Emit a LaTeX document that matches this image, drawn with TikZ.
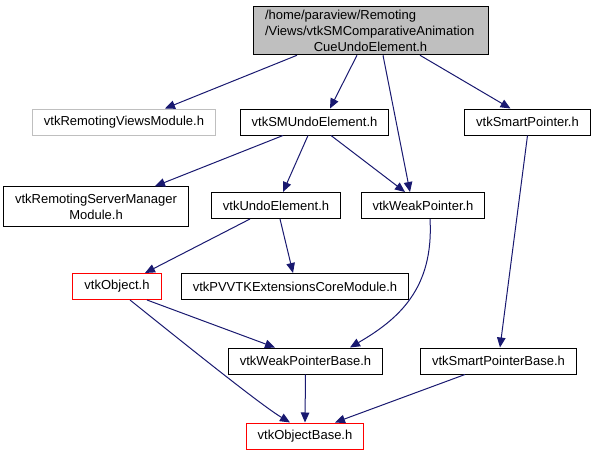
\documentclass[tikz,border=0pt]{standalone}
\usepackage{fontspec}
\setmainfont{Liberation Sans}
\usetikzlibrary{arrows.meta}
\definecolor{edgeblue}{RGB}{25,25,112}
\definecolor{boxgray}{RGB}{191,191,191}
\begin{document}
\begin{tikzpicture}[x=1pt, y=-1pt, line width=1pt, >={Triangle[length=10pt,width=8.5pt]},
  file/.style={draw=black, fill=white, inner xsep=11.5pt, inner ysep=0pt, minimum height=26pt, font=\fontsize{13}{16}\selectfont},
  extfile/.style={file, draw=boxgray},
  redfile/.style={file, draw=red},
  dep/.style={->, draw=edgeblue}]
  \useasboundingbox (0,0) rectangle (598,455);
  % files
  \node[file, fill=boxgray, align=center, text width=214pt, inner xsep=10.5pt, inner ysep=3.5pt] (root) at (370.5,30.5)
    {\makebox[214pt][l]{\hspace{1.5pt}/home/paraview/Remoting}\\ \makebox[214pt][l]{\hspace{1.5pt}/Views/vtkSMComparativeAnimation}\\ CueUndoElement.h};
  \node[extfile] (rvm) at (124,122) {vtkRemotingViewsModule.h};
  \node[file] (smu) at (314.5,122) {vtkSMUndoElement.h};
  \node[file] (sp) at (527.5,122) {vtkSmartPointer.h};
  \node[file, align=center, inner ysep=7pt] (rsm) at (96,206.5) {vtkRemotingServerManager\\Module.h};
  \node[file] (ue) at (276,205.5) {vtkUndoElement.h};
  \node[file] (wp) at (423,205.5) {vtkWeakPointer.h};
  \node[redfile] (obj) at (117,286.5) {vtkObject.h};
  \node[file] (pv) at (295,286.5) {vtkPVVTKExtensionsCoreModule.h};
  \node[file] (wpb) at (305.5,361) {vtkWeakPointerBase.h};
  \node[file] (spb) at (498.5,361) {vtkSmartPointerBase.h};
  \node[redfile] (ob) at (305,436) {vtkObjectBase.h};
  % includes
  \draw[dep] ([xshift=-73.5pt]root.south) -- ([xshift=41pt]rvm.north);
  \draw[dep] ([xshift=-13.5pt]root.south) -- ([xshift=15.5pt]smu.north);
  \draw[dep] ([xshift=12.5pt]root.south) -- ([xshift=-13pt]wp.north);
  \draw[dep] ([xshift=49.5pt]root.south) -- ([xshift=-17pt]sp.north);
  \draw[dep] ([xshift=-31.5pt]smu.south) -- ([xshift=59pt]rsm.north);
  \draw[dep] ([xshift=-6.5pt]smu.south) -- ([xshift=7pt]ue.north);
  \draw[dep] ([xshift=16.5pt]smu.south) -- ([xshift=-18pt]wp.north);
  \draw[dep] ([xshift=-26pt]ue.south) -- ([xshift=28pt]obj.north);
  \draw[dep] ([xshift=4pt]ue.south) -- ([xshift=-2pt]pv.north);
  \draw[dep] ([xshift=7pt]wp.south) .. controls +(4,70) and +(48,-28) .. ([xshift=44.5pt]wpb.north);
  \draw[dep] (sp.south) -- ([xshift=1.5pt]spb.north);
  \draw[dep] ([xshift=30pt]obj.south) -- ([xshift=-30.5pt]wpb.north);
  \draw[dep] ([xshift=13pt]obj.south) .. controls +(50,40) and +(-30,-18) .. ([xshift=-15pt]ob.north);
  \draw[dep] (wpb.south) -- (ob.north);
  \draw[dep] ([xshift=-33.5pt]spb.south) -- ([xshift=30pt]ob.north);
\end{tikzpicture}
\end{document}
